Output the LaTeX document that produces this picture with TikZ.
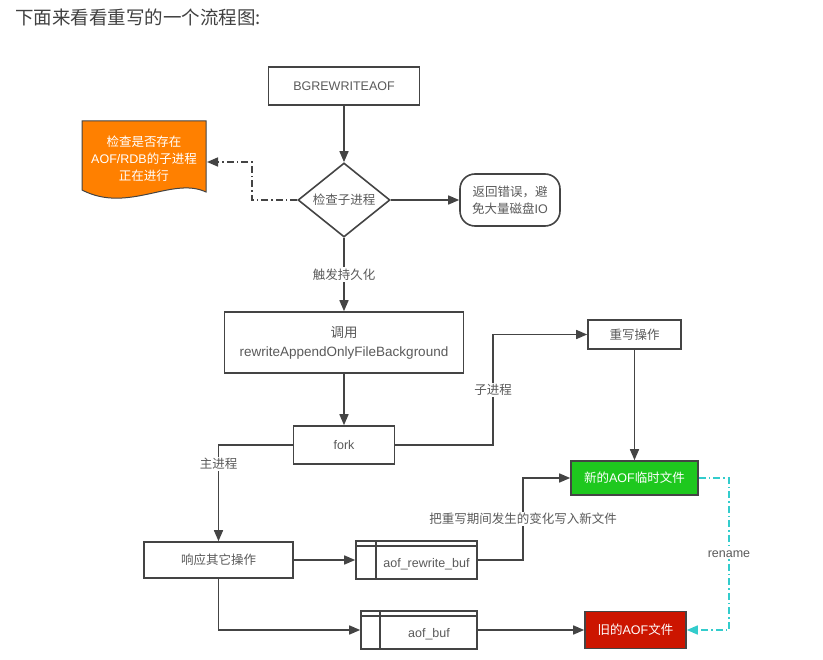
\documentclass[tikz,border=0pt]{standalone}
\usepackage{fontspec}
\setmainfont{Noto Sans CJK SC}
\newfontfamily\lat{Liberation Sans}
\usetikzlibrary{arrows.meta,shapes.geometric}
\definecolor{txt}{HTML}{5A5A5A}
\definecolor{ln}{HTML}{444444}
\definecolor{orng}{HTML}{FF8000}
\definecolor{grn}{HTML}{1EC81E}
\definecolor{rd}{HTML}{CC1500}
\definecolor{cyn}{HTML}{33CCCC}
\tikzset{
  box/.style={draw=ln, line width=1.6pt, fill=white, text=txt, font=\fontsize{12.5}{15}\selectfont, inner sep=0pt, align=center},
  tip/.style={-{Triangle[width=9pt,length=11pt]}},
  conn/.style={draw=ln, line width=1.6pt, tip},
  lbl/.style={text=txt, font=\fontsize{12.5}{14}\selectfont, fill=white, inner sep=1.5pt},
  buftxt/.style={text=txt, font=\fontsize{12.5}{15}\lat, inner sep=0pt},
}
\begin{document}
\begin{tikzpicture}[x=1pt,y=-1pt]
\useasboundingbox (0,0) rectangle (823,660);
\node[anchor=west, text=black!75, font=\fontsize{18.5}{20}\selectfont, inner sep=0pt] (title) at (15,17) {下面来看看重写的一个流程图:};

\node[box, minimum width=151pt, minimum height=38pt] (bg) at (344,86) {\lat BGREWRITEAOF};
\node[box, diamond, minimum width=92pt, minimum height=70pt] (chk) at (344,200) {检查子进程};
% orange document
\draw[draw=ln, line width=1pt, fill=orng] (82,121) -- (206,121) -- (206,192) .. controls (172,176) and (128,214) .. (82,190) -- cycle;
\node[text=white, font=\fontsize{12.5}{17}\selectfont, align=center] (doc) at (144,159) {检查是否存在\\{\lat AOF/RDB}的子进程\\正在进行};
\coordinate (docr) at (207,162);
\node[box, rounded corners=15pt, minimum width=100pt, minimum height=52pt, font=\fontsize{12.5}{17}\selectfont] (ret) at (510,200) {返回错误，避\\免大量磁盘{\lat IO}};
\node[box, minimum width=239pt, minimum height=61pt, font=\fontsize{13.5}{19}\selectfont] (call) at (344,342.5) {调用\\{\lat rewriteAppendOnlyFileBackground}};
\node[box, minimum width=101pt, minimum height=38pt] (fork) at (344,445) {\lat fork};
\node[box, minimum width=93pt, minimum height=29pt] (rw) at (634.5,334.5) {重写操作};
\node[box, fill=grn, text=white, minimum width=127pt, minimum height=34pt] (new) at (634.5,478) {新的{\lat AOF}临时文件};
\node[box, minimum width=149pt, minimum height=36pt] (resp) at (218.5,560) {响应其它操作};
\node[box, minimum width=121pt, minimum height=38pt] (rbuf) at (416.5,560) {};
\node[buftxt] (rbuft) at ([xshift=10pt,yshift=-4pt]rbuf.center) {aof\_rewrite\_buf};
\draw[draw=ln, line width=1.6pt] ([xshift=21pt]rbuf.north west) -- ([xshift=21pt]rbuf.south west);
\draw[draw=ln, line width=1.6pt] ([yshift=-6pt]rbuf.north west) -- ([yshift=-6pt]rbuf.north east);
\node[box, minimum width=116pt, minimum height=38pt] (abuf) at (419,630) {};
\node[buftxt] (abuft) at ([xshift=10pt,yshift=-4pt]abuf.center) {aof\_buf};
\draw[draw=ln, line width=1.6pt] ([xshift=20pt]abuf.north west) -- ([xshift=20pt]abuf.south west);
\draw[draw=ln, line width=1.6pt] ([yshift=-6pt]abuf.north west) -- ([yshift=-6pt]abuf.north east);
\node[box, fill=rd, text=white, minimum width=101pt, minimum height=37pt] (old) at (635.5,630) {旧的{\lat AOF}文件};

% connectors
\draw[conn] (bg) -- (chk);
\draw[draw=ln, line width=1.6pt, dash pattern=on 7pt off 3pt on 1.5pt off 3pt, tip] (chk.west) -- (252,200) -- (252,162) -- (docr);
\draw[conn] (chk.east) -- (ret.west);
\draw[conn] (chk.south) -- node[lbl]{触发持久化} (call.north);
\draw[conn] (call) -- (fork);
\draw[conn] (fork.east) -- (493,445) -- node[lbl, pos=0.5]{子进程} (493,334.5) -- (rw.west);
\draw[conn] (rw) -- (new);
\draw[conn] (fork.west) -| node[lbl, pos=0.6]{主进程} (resp.north);
\draw[conn] (resp.east) -- (rbuf.west);
\draw[conn] (rbuf.east) -- (523,560) -- node[lbl, pos=0.5]{把重写期间发生的变化写入新文件} (523,478) -- (new.west);
\draw[conn] (resp.south) |- (abuf.west);
\draw[conn] (abuf.east) -- (old.west);
\draw[draw=cyn, line width=1.6pt, dash pattern=on 7pt off 3pt on 1.5pt off 3pt, tip] (new.east) -- (729,478) -- node[lbl, pos=0.5]{\lat rename} (729,630) -- (old.east);
\end{tikzpicture}
\end{document}
